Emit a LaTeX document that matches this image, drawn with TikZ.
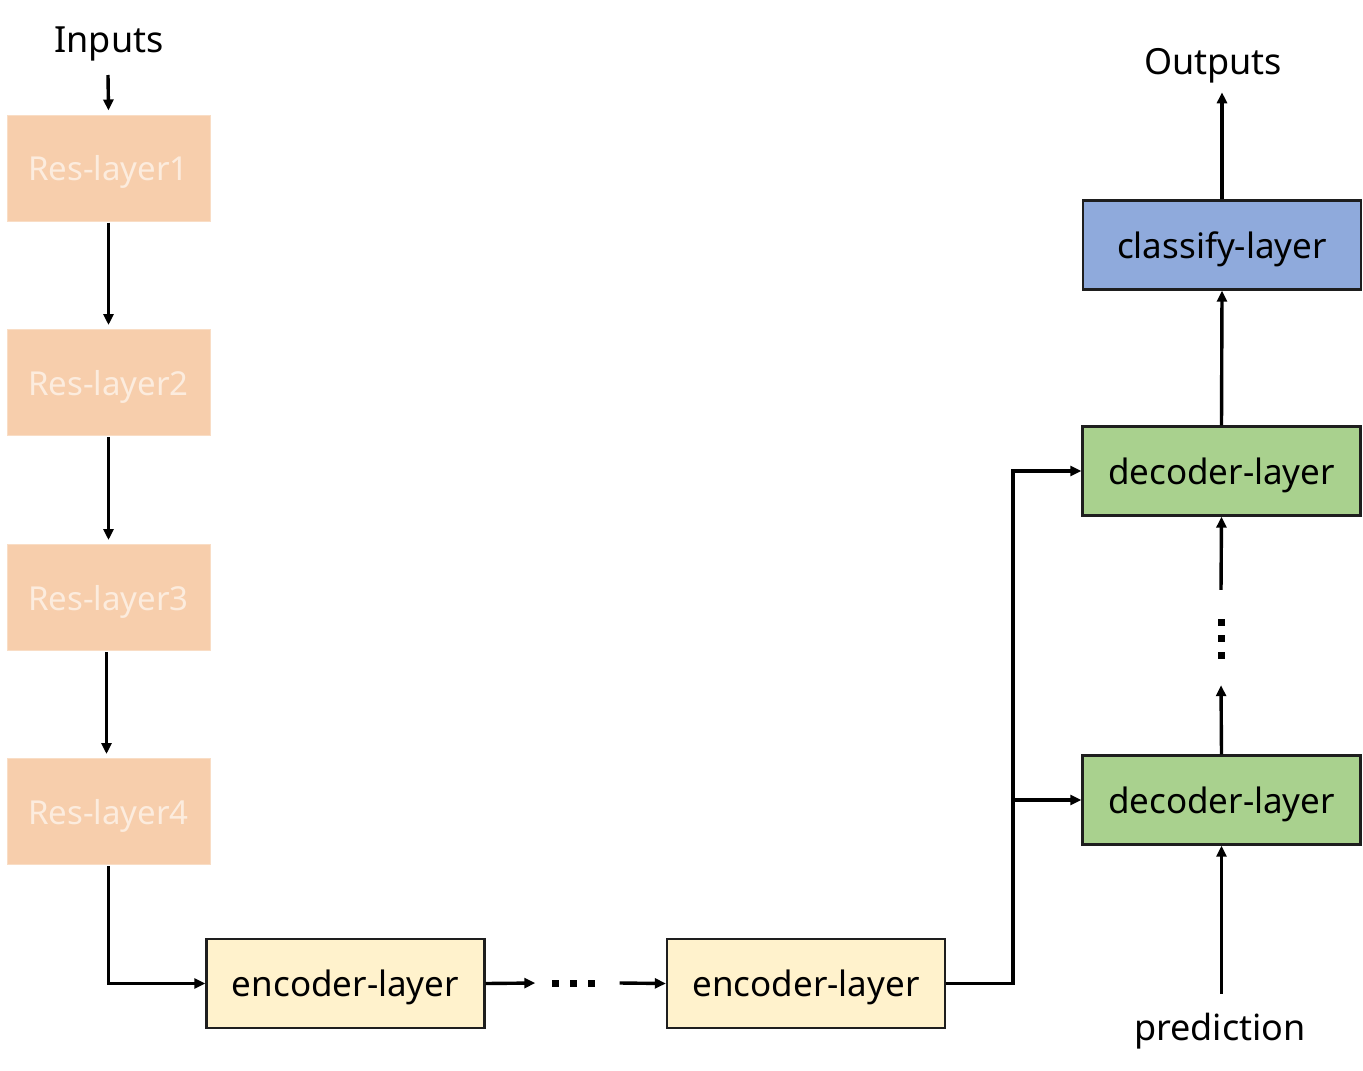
\documentclass[tikz,border=0pt]{standalone}
\usepackage{fontspec}
\setmainfont{Noto Sans}
\usetikzlibrary{arrows.meta,positioning,calc}
\definecolor{resfill}{RGB}{247,206,172}
\definecolor{restext}{RGB}{252,236,222}
\definecolor{encfill}{RGB}{255,242,204}
\definecolor{decfill}{RGB}{169,209,142}
\definecolor{clsfill}{RGB}{143,170,220}
\definecolor{boxline}{RGB}{30,30,30}
\begin{document}
\begin{tikzpicture}[x=1pt,y=-1pt,
  resbox/.style={fill=resfill,draw=resfill!70!white,line width=1pt,minimum width=203pt,minimum height=106pt,inner sep=0pt,text depth=0pt,text=restext,font=\fontsize{33}{36}\selectfont},
  layerbox/.style={draw=boxline,line width=2.4pt,minimum width=278pt,minimum height=89pt,inner sep=0pt,text depth=0pt,font=\fontsize{35}{38}\selectfont},
  lbl/.style={font=\fontsize{36}{40}\selectfont,inner sep=0pt},
  arr/.style={line width=3.4pt,-{Triangle[length=11pt,width=10pt]}}]
\useasboundingbox (0,0) rectangle (1363,1071);
\node[lbl] (in) at (109,44) {Inputs};
\node[resbox] (r1) at (108.5,168) {Res-layer1};
\node[resbox] (r2) at (108.5,382.5) {Res-layer2};
\node[resbox] (r3) at (108.5,597.5) {Res-layer3};
\node[resbox] (r4) at (108.5,811.5) {Res-layer4};
\node[layerbox,fill=encfill] (e1) at (345.5,983.5) {encoder-layer};
\node[layerbox,fill=encfill] (e2) at (806,983.5) {encoder-layer};
\node[layerbox,fill=decfill] (d2) at (1221.5,800) {decoder-layer};
\node[layerbox,fill=decfill] (d1) at (1221.5,471) {decoder-layer};
\node[layerbox,fill=clsfill] (cl) at (1222,245) {classify-layer};
\node[lbl] (out) at (1213,66) {Outputs};
\node[lbl] (pred) at (1220,1031) {prediction};
% horizontal dots
\node[minimum width=84pt,minimum height=10pt,inner sep=0pt] (hd) at (577.5,983) {};
\foreach \xx in {555,573,591} \fill (\xx-3.5,979.5) rectangle (\xx+3.5,986.5);
% vertical dots
\node[minimum width=10pt,minimum height=95pt,inner sep=0pt] (vd) at (1221,637.5) {};
\foreach \yy in {622,638,655} \fill (1217.5,\yy-3.5) rectangle (1224.5,\yy+3.5);
% arrows
\draw[arr] ($(in.center)+(-1,31)$) -- ($(r1.north)+(0,-4)$);
\draw[arr] ($(r1.south)+(0,1)$) -- ($(r2.north)+(0,-4)$);
\draw[arr] ($(r2.south)+(0,1)$) -- ($(r3.north)+(0,-4)$);
\draw[arr] ($(r3.south)+(-2,1)$) -- ($(r4.north)+(-2,-4)$);
\draw[arr] ($(r4.south)+(0,1)$) |- (e1.west);
\draw[arr] (e1.east) -- (hd.west);
\draw[arr] (hd.east) -- (e2.west);
\coordinate (bus) at (1013,471);
\draw[arr] (e2.east) -| (bus) -- (d1.west);
\draw[arr] (bus |- d2.west) -- (d2.west);
\draw[arr] ($(d2.south)+(0,148)$) -- (d2.south);
\draw[arr] (d2.north) -- (vd.south);
\draw[arr] (vd.north) -- (d1.south);
\draw[arr] (d1.north) -- (cl.south);
\draw[arr] (cl.north) -- ($(cl.north)+(0,-107)$);
\end{tikzpicture}
\end{document}
